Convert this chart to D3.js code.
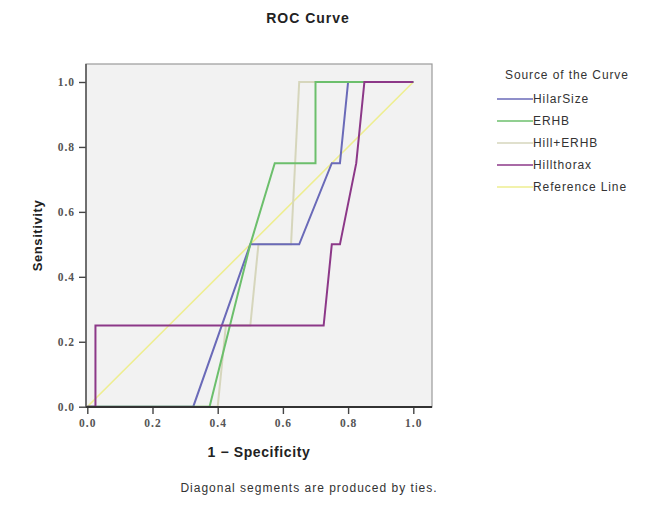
<!DOCTYPE html>
<html>
<head>
<meta charset="utf-8">
<script src="https://cdn.jsdelivr.net/npm/d3@7"></script>
<style>
  body { margin: 0; background: #fff; }
  svg { display: block; }
</style>
</head>
<body>
<div id="chart"></div>
<script>
// ROC curve points (1 - specificity, sensitivity)
const hilarSizeX = [0, 0.325, 0.5, 0.65, 0.75, 0.775, 0.8, 1];
const hilarSizeY = [0, 0, 0.5, 0.5, 0.75, 0.75, 1, 1];

const erhbX = [0, 0.375, 0.5, 0.575, 0.7, 0.7, 1];
const erhbY = [0, 0, 0.5, 0.75, 0.75, 1, 1];

const hillErhbX = [0, 0.4, 0.425, 0.5, 0.525, 0.625, 0.65, 1];
const hillErhbY = [0, 0, 0.25, 0.25, 0.5, 0.5, 1, 1];

const hillthoraxX = [0, 0.025, 0.025, 0.725, 0.75, 0.775, 0.825, 0.85, 1];
const hillthoraxY = [0, 0, 0.25, 0.25, 0.5, 0.5, 0.75, 1, 1];

const referenceX = [0, 1];
const referenceY = [0, 1];

const seriesNames = ["HilarSize", "ERHB", "Hill+ERHB", "Hillthorax", "Reference Line"];
const seriesColors = ["#6a6ab8", "#6cbf6c", "#d6d6bc", "#8c3888", "#eeee90"];
const tickValues = [0, 0.2, 0.4, 0.6, 0.8, 1.0];

const width = 646;
const height = 516;
const frame = { left: 86, right: 432, top: 64, bottom: 407 };

const zip = (xs, ys) => xs.map((x, i) => ({ x, y: ys[i] }));

const series = [
  { name: seriesNames[0], color: seriesColors[0], points: zip(hilarSizeX, hilarSizeY) },
  { name: seriesNames[1], color: seriesColors[1], points: zip(erhbX, erhbY) },
  { name: seriesNames[2], color: seriesColors[2], points: zip(hillErhbX, hillErhbY) },
  { name: seriesNames[3], color: seriesColors[3], points: zip(hillthoraxX, hillthoraxY) },
  { name: seriesNames[4], color: seriesColors[4], points: zip(referenceX, referenceY) },
];

const svg = d3
  .select("#chart")
  .append("svg")
  .attr("width", width)
  .attr("height", height);

const xScale = d3.scaleLinear().domain([0, 1]).range([87.3, 413.3]);
const yScale = d3.scaleLinear().domain([0, 1]).range([406.7, 82]);

// plot background
svg
  .append("rect")
  .attr("x", frame.left)
  .attr("y", frame.top)
  .attr("width", frame.right - frame.left)
  .attr("height", frame.bottom - frame.top)
  .attr("fill", "#f2f2f2")
  .attr("stroke", "#9a9a9a")
  .attr("stroke-width", 1.2);

const line = d3
  .line()
  .x((d) => xScale(d.x))
  .y((d) => yScale(d.y));

// draw order: reference, Hill+ERHB, HilarSize, ERHB, Hillthorax
const drawOrder = [4, 2, 0, 1, 3];
svg
  .append("g")
  .selectAll("path")
  .data(drawOrder.map((i) => series[i]))
  .join("path")
  .attr("d", (d) => line(d.points))
  .attr("fill", "none")
  .attr("stroke", (d) => d.color)
  .attr("stroke-width", (d) => (d.name === "Reference Line" ? 1.6 : 2))
  .attr("stroke-linejoin", "miter");

// axes
const styleAxis = (g) => {
  g.select(".domain").remove();
  g.selectAll("line").attr("stroke", "#444").attr("stroke-width", 1.4);
  g.selectAll("text")
    .attr("font-family", "Liberation Serif, serif")
    .attr("font-size", 11.5)
    .attr("font-weight", "bold")
    .attr("letter-spacing", 1)
    .attr("fill", "#555");
};

const xAxis = d3
  .axisBottom(xScale)
  .tickValues(tickValues)
  .tickFormat(d3.format(".1f"))
  .tickSize(7)
  .tickSizeOuter(0)
  .tickPadding(5);

const yAxis = d3
  .axisLeft(yScale)
  .tickValues(tickValues)
  .tickFormat(d3.format(".1f"))
  .tickSize(7)
  .tickSizeOuter(0)
  .tickPadding(4);

svg
  .append("g")
  .attr("transform", `translate(0, ${frame.bottom})`)
  .call(xAxis)
  .call(styleAxis);

svg
  .append("g")
  .attr("transform", `translate(${frame.left}, 0)`)
  .call(yAxis)
  .call(styleAxis);

// axis lines on left and bottom
svg
  .append("line")
  .attr("x1", frame.left)
  .attr("x2", frame.left)
  .attr("y1", frame.top)
  .attr("y2", frame.bottom)
  .attr("stroke", "#555")
  .attr("stroke-width", 1.5);

svg
  .append("line")
  .attr("x1", frame.left)
  .attr("x2", frame.right)
  .attr("y1", frame.bottom)
  .attr("y2", frame.bottom)
  .attr("stroke", "#333")
  .attr("stroke-width", 2);

// titles
svg
  .append("text")
  .attr("x", 308)
  .attr("y", 23)
  .attr("text-anchor", "middle")
  .attr("font-family", "Liberation Sans, Arial, sans-serif")
  .attr("font-weight", "bold")
  .attr("font-size", 14)
  .attr("letter-spacing", 1)
  .attr("fill", "#222")
  .text("ROC Curve");

svg
  .append("text")
  .attr("x", (frame.left + frame.right) / 2)
  .attr("y", 457)
  .attr("text-anchor", "middle")
  .attr("font-family", "Liberation Sans, Arial, sans-serif")
  .attr("font-weight", "bold")
  .attr("font-size", 14)
  .attr("letter-spacing", 0.6)
  .attr("fill", "#222")
  .text("1 \u2212 Specificity");

svg
  .append("text")
  .attr("transform", `translate(42, ${(frame.top + frame.bottom) / 2}) rotate(-90)`)
  .attr("text-anchor", "middle")
  .attr("font-family", "Liberation Sans, Arial, sans-serif")
  .attr("font-weight", "bold")
  .attr("font-size", 13)
  .attr("letter-spacing", 0.6)
  .attr("fill", "#222")
  .text("Sensitivity");

svg
  .append("text")
  .attr("x", 309)
  .attr("y", 492)
  .attr("text-anchor", "middle")
  .attr("font-family", "Liberation Sans, Arial, sans-serif")
  .attr("font-size", 12)
  .attr("letter-spacing", 1)
  .attr("fill", "#333")
  .text("Diagonal segments are produced by ties.");

// legend
const legend = svg.append("g").attr("transform", "translate(497, 0)");

legend
  .append("text")
  .attr("x", 8)
  .attr("y", 79)
  .attr("font-family", "Liberation Sans, Arial, sans-serif")
  .attr("font-size", 12)
  .attr("letter-spacing", 0.9)
  .attr("fill", "#333")
  .text("Source of the Curve");

const legendRows = legend
  .selectAll(".legend-row")
  .data(series)
  .join("g")
  .attr("class", "legend-row")
  .attr("transform", (d, i) => `translate(0, ${99 + i * 22})`);

legendRows
  .append("line")
  .attr("x1", 0)
  .attr("x2", 36)
  .attr("stroke", (d) => d.color)
  .attr("stroke-width", 1.6);

legendRows
  .append("text")
  .attr("x", 36)
  .attr("y", 4)
  .attr("font-family", "Liberation Sans, Arial, sans-serif")
  .attr("font-size", 12)
  .attr("letter-spacing", 0.9)
  .attr("fill", "#333")
  .text((d) => d.name);
</script>
</body>
</html>
